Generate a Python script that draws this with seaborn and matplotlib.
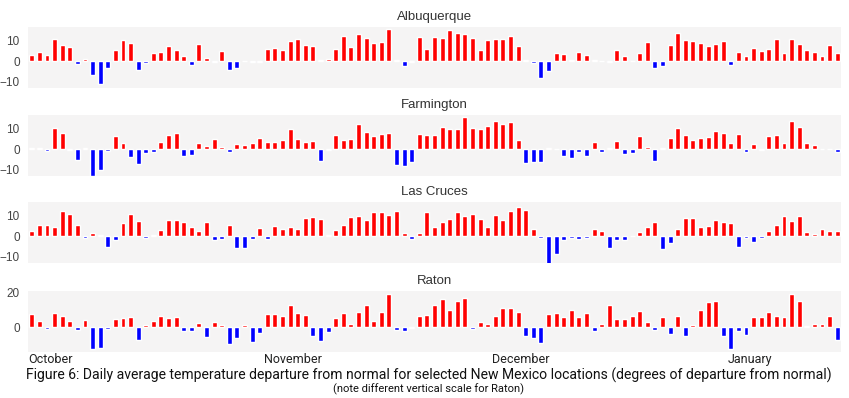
#%%
# Bibliotecas
import numpy as np
import pandas as pd
import seaborn as sns
import matplotlib
matplotlib.use('Agg')
import matplotlib.pyplot as plt

#%%
# Dados: desvio diario da temperatura media (1 out - 15 jan)
cidades = ['Albuquerque', 'Farmington', 'Las Cruces', 'Raton']

albuquerque = [3.2, 4.2, 2.9, 10.6, 7.9, 6.8, -1.6, 1.0, -6.8, -11.1,
               -3.5, 5.5, 10.0, 9.0, -4.2, -1.1, 3.9, 4.4, 7.3, 5.6,
               2.3, -1.8, 8.2, 1.5, -0.6, 4.8, -4.2, -3.5, 0.0, -0.5,
               -0.5, 5.8, 6.3, 5.3, 9.8, 10.8, 7.7, 7.1, 0.5, 1.0,
               5.8, 12.1, 6.8, 13.1, 11.1, 8.7, 9.2, 15.6, 0.3, -2.3,
               -0.5, 11.8, 6.1, 11.6, 11.1, 15.0, 13.5, 13.2, 11.1, 5.2,
               10.2, 10.8, 10.8, 12.1, 7.3, 0.3, -0.8, -8.1, -4.7, 3.7,
               3.5, 0.5, 4.4, 2.9, 0.4, 0.0, -0.3, 5.5, 2.4, 0.2,
               3.7, 9.4, -3.1, -2.6, 7.9, 13.7, 10.0, 9.5, 9.0, 7.4,
               8.1, 9.8, -1.9, 4.4, 2.3, 6.3, 4.8, 6.1, 10.8, 4.0,
               10.6, 8.4, 5.2, 4.4, 2.4, 7.7, 4.0]

farmington = [0.5, 0.5, -0.8, 10.2, 7.6, -0.3, -5.2, 0.7, -12.8, -10.3,
              -0.9, 6.2, 2.8, -3.6, -7.1, -1.7, -1.4, 3.6, 6.7, 7.6,
              -3.1, -2.8, 3.1, 1.7, 4.7, 1.0, -1.6, 2.4, 1.9, 2.8,
              5.2, 3.4, 3.4, 4.3, 9.8, 4.7, 3.4, 4.1, -5.9, -0.2,
              6.9, 4.3, 4.7, 12.2, 8.4, 6.4, 7.4, 7.8, -7.6, -8.1,
              -6.4, 7.1, 6.9, 6.7, 10.5, 9.5, 9.7, 15.5, 10.0, 9.8,
              11.4, 13.6, 12.1, 13.3, 4.5, -6.9, -6.2, -6.2, 0.4, 0.2,
              -3.1, -4.3, -1.6, -3.4, 3.3, -1.6, 0.3, 4.1, -2.6, -1.7,
              6.2, 1.2, -5.9, 0.5, 5.3, 10.3, 6.9, 4.3, 5.3, 6.0,
              9.0, 7.9, 3.1, 7.4, -1.4, 2.6, -0.3, 6.4, 6.9, 3.1,
              13.8, 10.7, 2.9, 1.9, 0.2, 0.2, -1.2]

las_cruces = [2.5, 5.4, 5.3, 4.6, 12.0, 10.8, 5.3, -0.8, 1.5, 0.3,
              -5.3, -1.9, 6.4, 10.7, 7.1, -0.7, 0.5, 3.2, 7.6, 7.6,
              6.8, 4.2, 2.5, 6.9, -2.0, -1.5, 5.4, -5.6, -5.6, -1.4,
              4.1, -1.5, 4.9, 3.6, 4.4, 3.4, 8.8, 9.3, 8.5, 0.4,
              3.0, 5.4, 9.2, 9.5, 8.0, 11.7, 11.7, 10.0, 12.2, 1.5,
              -1.5, 1.4, 11.5, 4.4, 6.8, 8.1, 11.5, 9.7, 10.5, 8.5,
              4.2, 10.3, 7.8, 12.2, 14.2, 12.7, 3.4, -0.8, -13.9, -8.5,
              -2.0, -0.7, -1.2, -1.0, 3.4, 2.5, -5.8, -2.0, -1.7, 0.2,
              1.9, 4.4, 6.9, -6.3, -3.2, 3.6, 9.0, 9.0, 4.6, 4.9,
              8.0, 6.6, 6.4, -5.1, -0.8, -2.9, -1.0, 2.7, 5.4, 9.8,
              7.5, 9.8, 2.2, 1.2, 3.6, 2.7, 2.7]

raton = [7.6, 3.5, -0.8, 8.2, 6.4, 3.5, -1.4, 4.1, -12.6, -11.8,
         -1.0, 4.5, 5.6, 6.2, -7.6, 1.0, 3.7, 6.4, 5.4, 6.0,
         -2.5, -2.5, 2.7, -5.6, 3.3, 1.2, -9.9, -6.0, 1.4, -8.7,
         -3.3, 7.8, 7.6, 6.6, 12.6, 8.3, 7.2, -4.9, -8.0, -2.9,
         5.2, 8.3, 1.7, 9.1, 12.6, 3.5, 8.9, 19.4, -1.4, -2.1,
         -0.4, 6.4, 7.0, 12.6, 16.3, 9.7, 15.3, 16.9, -1.0, 2.9,
         2.1, 6.6, 10.9, 11.1, 8.7, -5.0, -6.2, -9.1, 7.4, 8.0,
         6.2, 9.9, 6.0, 8.3, -2.5, 1.7, 12.8, 4.5, 4.9, 6.4,
         9.3, 3.1, -1.9, 6.0, -3.7, 6.6, -5.2, 1.2, 9.9, 14.6,
         15.3, -4.9, -12.8, -2.1, -4.5, 5.8, 6.2, 8.7, 6.6, 5.8,
         19.4, 15.3, 0.6, 2.1, 1.7, 6.4, -7.2]

series = [albuquerque, farmington, las_cruces, raton]

# primeiro dia de cada mes (indice do dia)
meses = ['October', 'November', 'December', 'January']
inicio_mes = [0, 31, 61, 92]

#%%
# Estilo
sns.set_style('white', {'axes.facecolor': '#f5f4f4'})
plt.rcParams['font.family'] = ['Liberation Sans', 'DejaVu Sans']
fonte_legenda = ['Roboto', 'DejaVu Sans']

fig = plt.figure(figsize=(8.49, 3.98), dpi=100)

# posicao de cada painel em pixels (topo, base)
paineis = [(27, 88), (115, 176), (202, 263), (291, 352)]
W, H = 849, 398

for i, (cidade, valores) in enumerate(zip(cidades, series)):
    topo, base = paineis[i]
    ax = fig.add_axes([28 / W, 1 - base / H, (841 - 28) / W, (base - topo) / H])

    df = pd.DataFrame({'dia': np.arange(len(valores)), 'desvio': valores})
    df['sinal'] = np.where(df['desvio'] >= 0, 'pos', 'neg')

    sns.barplot(data=df, x='dia', y='desvio', hue='sinal',
                hue_order=['pos', 'neg'], palette={'pos': '#ff0000', 'neg': '#0000ff'},
                dodge=False, width=0.65, saturation=1, legend=False, ax=ax)

    ax.set_title(cidade, fontsize=9.5, color='#333333', pad=5)
    ax.set_xlabel('')
    ax.set_ylabel('')
    ax.set_xlim(-0.5, len(valores) - 0.5)
    if cidade == 'Raton':
        ax.set_ylim(-14.4, 21)
        ax.set_yticks([0, 20])
    else:
        ax.set_ylim(-13, 16.5)
        ax.set_yticks([-10, 0, 10])
    ax.tick_params(axis='y', length=0, labelsize=8.5, labelcolor='#444444', pad=6)
    sns.despine(ax=ax, left=True, bottom=True)

    if i == 3:
        ax.set_xticks([d - 0.45 for d in inicio_mes])
        ax.set_xticklabels(meses, ha='left', fontsize=9, family=fonte_legenda, color='#222222')
        ax.tick_params(axis='x', length=0, pad=1)
    else:
        ax.set_xticks([])

# Legenda da figura
fig.text(0.505, 1 - 375 / H, 'Figure 6: Daily average temperature departure from normal for selected New Mexico '
         'locations (degrees of departure from normal)', ha='center', va='center',
         fontsize=10.1, family=fonte_legenda, color='#111111')
fig.text(0.505, 1 - 389 / H, '(note different vertical scale for Raton)', ha='center', va='center',
         fontsize=8, family=fonte_legenda, color='#111111')

fig.savefig('out.png', dpi=100)
